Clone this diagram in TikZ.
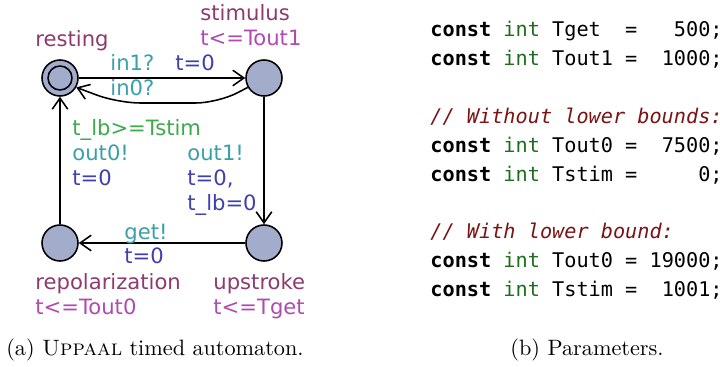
\documentclass[tikz,border=0pt]{standalone}
\usepackage{fontspec}
\newfontfamily\lblfont{DejaVu Sans}
\newfontfamily\codefont{DejaVu Sans Mono}
\usepackage{tikz}
\usetikzlibrary{positioning,arrows.meta}

\definecolor{locname}{HTML}{8E3A6E}
\definecolor{locinv}{HTML}{B04AB0}
\definecolor{guardcol}{HTML}{3DAA4B}
\definecolor{synccol}{HTML}{3A9FA8}
\definecolor{updcol}{HTML}{3F3FAF}
\definecolor{locfill}{HTML}{A4ACCC}
\definecolor{kwint}{HTML}{1F6E1F}
\definecolor{cmtcol}{HTML}{7A1414}

\begin{document}
\begin{tikzpicture}[x=0.45pt, y=-0.45pt,
  loc/.style={circle, draw, fill=locfill, line width=0.7pt, minimum size=16.2pt, inner sep=0pt},
  lbl/.style={anchor=west, inner sep=0pt, font=\lblfont\fontsize{9.5}{11}\selectfont, text height=8.5pt, text depth=1.7pt},
  code/.style={anchor=west, inner sep=0pt, font=\codefont\fontsize{9.1}{11}\selectfont, text height=9.7pt, text depth=2pt},
  edge/.style={line width=0.7pt, -{Straight Barb[length=5pt,width=7pt]}}]
  \useasboundingbox (0,0) rectangle (720,367);

  % Locations
  \node[loc] (resting) at (60,78) {};
  \node[loc, minimum size=10.8pt] (restinginit) at (resting) {};
  \node[loc] (stimulus) at (264,78) {};
  \node[loc] (upstroke) at (264,243) {};
  \node[loc] (repol) at (60,243) {};

  % Location names and invariants
  \node[lbl, locname] (restingname) at (35,39) {resting};
  \node[lbl, locname] (stimname) at (200,13) {stimulus};
  \node[lbl, locinv] (stiminv) at (200,38) {t<=Tout1};
  \node[lbl, locname] (upname) at (213,282) {upstroke};
  \node[lbl, locinv] (upinv) at (213,307) {t<=Tget};
  \node[lbl, locname] (repolname) at (35,282) {repolarization};
  \node[lbl, locinv] (repolinv) at (35,307) {t<=Tout0};

  % Edges
  \draw[edge] (resting) -- (stimulus);
  \draw[edge, rounded corners=10pt] (stimulus.210) -- (218,103) -- (118,103) -- (resting.-30);
  \draw[edge] (stimulus) -- (upstroke);
  \draw[edge] (upstroke) -- (repol);
  \draw[edge] (repol) -- (resting);

  % Edge labels
  \node[lbl, synccol] (in1) at (110,63) {in1?};
  \node[lbl, updcol] (in1upd) at (175,63) {t=0};
  \node[lbl, synccol] (in0) at (110,88) {in0?};
  \node[lbl, guardcol] (out0grd) at (72,128) {t\_lb>=Tstim};
  \node[lbl, synccol] (out0) at (72,153) {out0!};
  \node[lbl, updcol] (out0upd) at (72,178) {t=0};
  \node[lbl, synccol] (out1) at (187,153) {out1!};
  \node[lbl, updcol] (out1upda) at (187,178) {t=0,};
  \node[lbl, updcol] (out1updb) at (187,203) {t\_lb=0};
  \node[lbl, synccol] (get) at (124,232) {get!};
  \node[lbl, updcol] (getupd) at (124,256) {t=0};

  % Parameters
  \node[code] (c1) at (430,28.0) {\textbf{const} \textcolor{kwint}{int} Tget\ \ =\ \ \ 500;};
  \node[code] (c2) at (430,56.9) {\textbf{const} \textcolor{kwint}{int} Tout1 =\ \ 1000;};
  \node[code, cmtcol, font=\codefont\itshape\fontsize{9.1}{11}\selectfont] (c3) at (430,114.7) {// Without lower bounds:};
  \node[code] (c4) at (430,143.6) {\textbf{const} \textcolor{kwint}{int} Tout0 =\ \ 7500;};
  \node[code] (c5) at (430,172.5) {\textbf{const} \textcolor{kwint}{int} Tstim =\ \ \ \ \ 0;};
  \node[code, cmtcol, font=\codefont\itshape\fontsize{9.1}{11}\selectfont] (c6) at (430,230.3) {// With lower bound:};
  \node[code] (c7) at (430,259.2) {\textbf{const} \textcolor{kwint}{int} Tout0 = 19000;};
  \node[code] (c8) at (430,288.1) {\textbf{const} \textcolor{kwint}{int} Tstim =\ \ 1001;};

  % Captions
  \node (capa) at (155,350) {(a) \textsc{Uppaal} timed automaton.};
  \node (capb) at (587,350) {(b) Parameters.};
\end{tikzpicture}
\end{document}
